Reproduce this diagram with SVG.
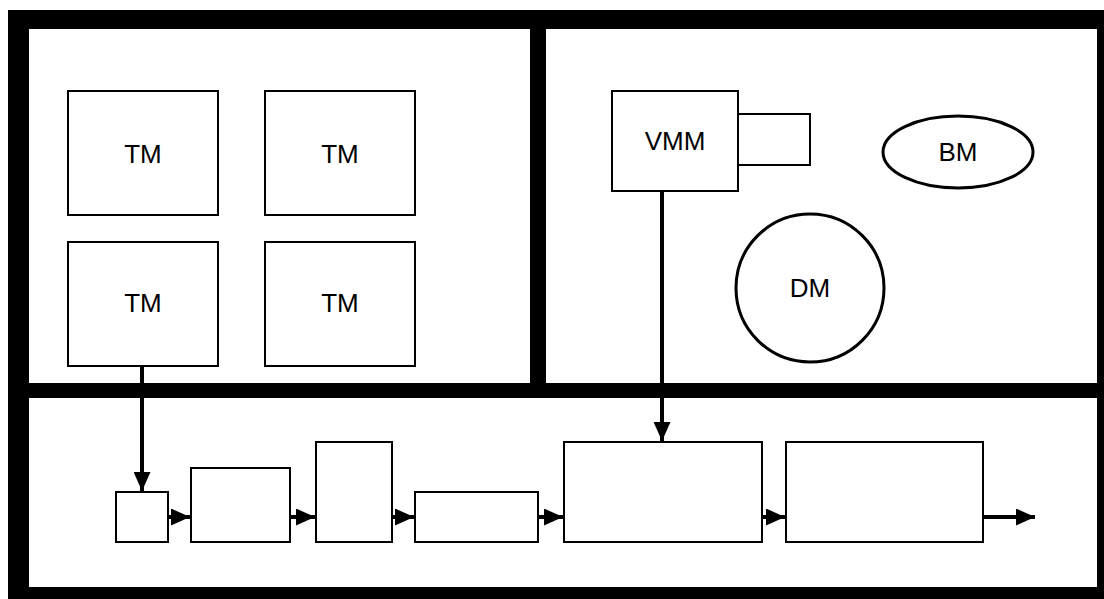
<svg xmlns="http://www.w3.org/2000/svg" width="1104" height="599" viewBox="0 0 1104 599">
<style>
.frame{fill:#000}
.box{fill:#fff;stroke:#000;stroke-width:2}
.shape{fill:#fff;stroke:#000;stroke-width:3}
.lbl{font-family:"Liberation Sans",Arial,sans-serif;font-size:26px;fill:#000;text-anchor:middle;dominant-baseline:central}
.conn{fill:none;stroke:#000;stroke-width:4}
</style>
<defs>
<marker id="ah" markerUnits="userSpaceOnUse" markerWidth="19" markerHeight="17" refX="19" refY="8.5" orient="auto">
<path d="M0,0 L19,8.5 L0,17 z" fill="#000"/>
</marker>
</defs>
<rect width="1104" height="599" fill="#fff"/>
<g id="frame">
<rect class="frame" x="8" y="10" width="1096" height="19"/>
<rect class="frame" x="8" y="10" width="21" height="589"/>
<rect class="frame" x="1097" y="10" width="7" height="589"/>
<rect class="frame" x="8" y="587" width="1096" height="12"/>
<rect class="frame" x="29" y="383" width="1068" height="15"/>
<rect class="frame" x="530" y="29" width="16" height="369"/>
</g>
<g id="tm1"><rect class="box" x="68" y="91" width="150" height="124"/><text class="lbl" x="143" y="154">TM</text></g>
<g id="tm2"><rect class="box" x="265" y="91" width="150" height="124"/><text class="lbl" x="340" y="154">TM</text></g>
<g id="tm3"><rect class="box" x="68" y="242" width="150" height="124"/><text class="lbl" x="143" y="303">TM</text></g>
<g id="tm4"><rect class="box" x="265" y="242" width="150" height="124"/><text class="lbl" x="340" y="303">TM</text></g>
<g id="vmm"><rect class="box" x="612" y="91" width="126" height="100"/><text class="lbl" x="675" y="141">VMM</text></g>
<g id="vmm-port"><rect class="box" x="738" y="114" width="72" height="51"/></g>
<g id="bm"><ellipse class="shape" cx="958" cy="152" rx="75" ry="36"/><text class="lbl" x="958" y="152">BM</text></g>
<g id="dm"><circle class="shape" cx="810" cy="288" r="74"/><text class="lbl" x="810" y="288">DM</text></g>
<g id="b1"><rect class="box" x="116" y="492" width="52" height="50"/></g>
<g id="b2"><rect class="box" x="191" y="468" width="99" height="74"/></g>
<g id="b3"><rect class="box" x="316" y="442" width="76" height="100"/></g>
<g id="b4"><rect class="box" x="415" y="492" width="123" height="50"/></g>
<g id="b5"><rect class="box" x="564" y="442" width="198" height="100"/></g>
<g id="b6"><rect class="box" x="786" y="442" width="197" height="100"/></g>
<g id="connectors">
<line class="conn" x1="142" y1="366" x2="142" y2="491" marker-end="url(#ah)"/>
<line class="conn" x1="662" y1="191" x2="662" y2="441" stroke-width="3" marker-end="url(#ah)"/>
<line class="conn" x1="168" y1="517" x2="190" y2="517" marker-end="url(#ah)"/>
<line class="conn" x1="290" y1="517" x2="315" y2="517" marker-end="url(#ah)"/>
<line class="conn" x1="392" y1="517" x2="414" y2="517" marker-end="url(#ah)"/>
<line class="conn" x1="538" y1="517" x2="563" y2="517" marker-end="url(#ah)"/>
<line class="conn" x1="762" y1="517" x2="785" y2="517" marker-end="url(#ah)"/>
<line class="conn" x1="983" y1="517" x2="1035" y2="517" marker-end="url(#ah)"/>
</g>
</svg>
